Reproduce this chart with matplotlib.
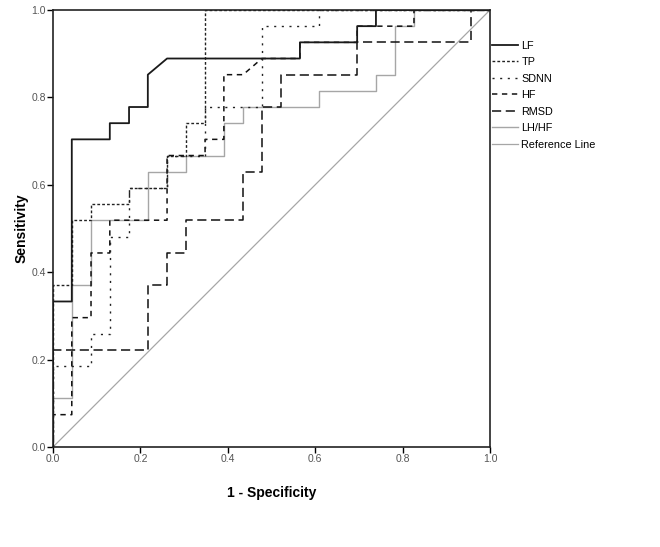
import matplotlib
matplotlib.use("Agg")
import matplotlib.pyplot as plt

# ROC curve vertices (1 - specificity, sensitivity)
lf_fpr = [0, 0, .043, .043, .130, .130, .174, .174, .217, .217, .261, .565, .565, .696, .696, .739, .739, 1]
lf_tpr = [0, .333, .333, .704, .704, .741, .741, .778, .778, .852, .889, .889, .926, .926, .963, .963, 1, 1]

tp_fpr = [0, 0, .043, .043, .087, .087, .174, .174, .261, .261, .304, .304, .348, .348, 1]
tp_tpr = [0, .370, .370, .519, .519, .556, .556, .593, .593, .667, .667, .741, .741, 1, 1]

sdnn_fpr = [0, 0, .087, .087, .130, .130, .174, .174, .261, .261, .348, .348, .478, .478, .609, .609, 1]
sdnn_tpr = [0, .185, .185, .259, .259, .481, .481, .593, .593, .667, .667, .778, .778, .963, .963, 1, 1]

hf_fpr = [0, 0, .043, .043, .087, .087, .130, .130, .261, .261, .348, .348, .391, .391, .435, .478,
          .565, .565, .696, .696, .826, .826, 1]
hf_tpr = [0, .074, .074, .296, .296, .444, .444, .519, .519, .667, .667, .704, .704, .852, .852, .889,
          .889, .926, .926, .963, .963, 1, 1]

rmsd_fpr = [0, 0, .217, .217, .261, .261, .304, .304, .435, .435, .478, .478, .522, .522, .696, .696, .957, .957, 1]
rmsd_tpr = [0, .222, .222, .370, .370, .444, .444, .519, .519, .630, .630, .778, .778, .852, .852, .926, .926, 1, 1]

lhhf_fpr = [0, 0, .043, .043, .087, .087, .217, .217, .304, .304, .391, .391, .435, .435, .609, .609,
            .739, .739, .783, .783, .826, .826, 1]
lhhf_tpr = [0, .111, .111, .370, .370, .519, .519, .630, .630, .667, .667, .741, .741, .778, .778, .815,
            .815, .852, .852, .963, .963, 1, 1]

ref_x = [0, 1]
ref_y = [0, 1]

ticks = [0.0, 0.2, 0.4, 0.6, 0.8, 1.0]
tick_labels = ["0.0", "0.2", "0.4", "0.6", "0.8", "1.0"]

plt.rcParams['font.family'] = ['Liberation Sans', 'DejaVu Sans']

fig = plt.figure(figsize=(6.6, 5.47), dpi=100)
ax = fig.add_axes([53/660, 1 - 447/547, 437/660, 437/547])

gray = "#a6a6a6"
ax.plot(lhhf_fpr, lhhf_tpr, color=gray, lw=1.0, label="LH/HF", zorder=2)
ax.plot(ref_x, ref_y, color=gray, lw=0.9, label="Reference Line", zorder=1)
ax.plot(rmsd_fpr, rmsd_tpr, color="#111111", lw=1.1, dashes=(6, 3), label="RMSD", zorder=3)
ax.plot(hf_fpr, hf_tpr, color="#111111", lw=1.1, dashes=(3.5, 3), label="HF", zorder=3)
ax.plot(sdnn_fpr, sdnn_tpr, color="#222222", lw=1.0, dashes=(1.5, 4), label="SDNN", zorder=3)
ax.plot(tp_fpr, tp_tpr, color="#222222", lw=1.0, dashes=(2, 1.5), label="TP", zorder=3)
ax.plot(lf_fpr, lf_tpr, color="#1a1a1a", lw=1.3, label="LF", zorder=4)

ax.set_xlim(0, 1)
ax.set_ylim(0, 1)
ax.set_xticks(ticks)
ax.set_xticklabels(tick_labels)
ax.set_yticks(ticks)
ax.set_yticklabels(tick_labels)
ax.tick_params(direction="out", length=4, width=1, labelsize=7.5, labelcolor="#555555", pad=1)
for s in ax.spines.values():
    s.set_color("#222222")
    s.set_linewidth(1.2)

ax.set_xlabel("1 - Specificity", fontsize=10, fontweight="bold", labelpad=16)
ax.set_ylabel("Sensitivity", fontsize=10, fontweight="bold", labelpad=2)

h, l = ax.get_legend_handles_labels()
order = ["LF", "TP", "SDNN", "HF", "RMSD", "LH/HF", "Reference Line"]
hd = dict(zip(l, h))
ax.legend([hd[o] for o in order], order, loc="upper left", bbox_to_anchor=(1.0, 0.935),
          frameon=False, fontsize=7.8, handlelength=2.4, handletextpad=0.3,
          labelspacing=0.6, borderaxespad=0.1, borderpad=0.1)

fig.savefig("out.png", dpi=100)
